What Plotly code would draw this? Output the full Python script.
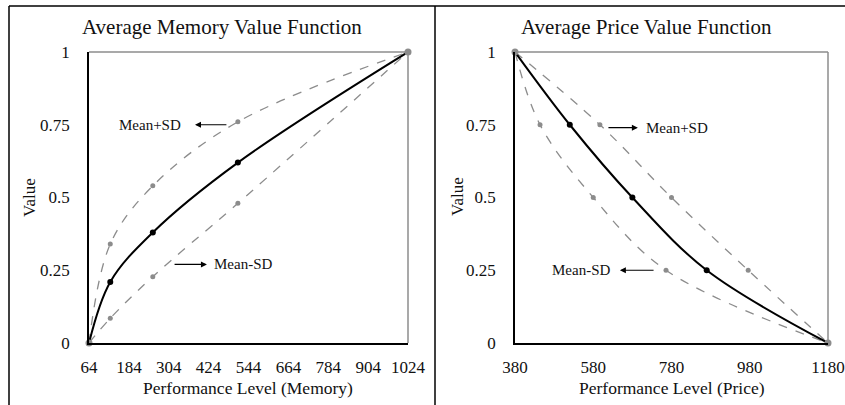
import plotly.graph_objects as go

# Memory value function (x = memory level, y = value)
mem_levels = [64, 128, 256, 512, 1024]
mem_mean = [0, 0.21, 0.38, 0.62, 1]
mem_plus_sd = [0, 0.34, 0.54, 0.76, 1]
mem_minus_sd = [0, 0.085, 0.228, 0.48, 1]
mem_ticks = [64, 184, 304, 424, 544, 664, 784, 904, 1024]

# Price value function (x = price level at each value step)
price_values = [1, 0.75, 0.5, 0.25, 0]
price_mean = [380, 520, 680, 870, 1180]
price_plus_sd = [380, 597, 780, 976, 1180]
price_minus_sd = [380, 444, 580, 766, 1180]
price_ticks = [380, 580, 780, 980, 1180]

value_ticks = [0, 0.25, 0.5, 0.75, 1]
value_labels = ["0", "0.25", "0.5", "0.75", "1"]

FONT = "Liberation Serif"
GREY = "#8c8c8c"
W, H = 845, 405

fig = go.Figure()


def add_panel(xs_list, ys_list, xa, ya):
    names = ["Mean+SD", "Mean-SD", "Mean"]
    for (xs, ys), name in zip(zip(xs_list, ys_list), names):
        is_mean = name == "Mean"
        fig.add_trace(go.Scatter(
            x=xs, y=ys, mode="lines", xaxis=xa, yaxis=ya, name=name,
            line=dict(shape="spline", smoothing=1,
                      color="black" if is_mean else GREY,
                      width=2 if is_mean else 1.3,
                      dash="solid" if is_mean else "dash"),
            showlegend=False, hoverinfo="skip", cliponaxis=False))
        fig.add_trace(go.Scatter(
            x=xs[1:-1], y=ys[1:-1], mode="markers", xaxis=xa, yaxis=ya,
            marker=dict(color="black" if is_mean else GREY,
                        size=6 if is_mean else 5),
            showlegend=False, hoverinfo="skip"))
    # shared end points
    fig.add_trace(go.Scatter(
        x=[xs_list[2][0], xs_list[2][-1]], y=[ys_list[2][0], ys_list[2][-1]],
        mode="markers", xaxis=xa, yaxis=ya, cliponaxis=False,
        marker=dict(color=GREY, size=7), showlegend=False, hoverinfo="skip"))


add_panel([mem_levels, mem_levels, mem_levels],
          [mem_plus_sd, mem_minus_sd, mem_mean], "x", "y")
add_panel([price_plus_sd, price_minus_sd, price_mean],
          [price_values, price_values, price_values], "x2", "y2")

ydom = [1 - 343 / H, 1 - 52 / H]
axis_common = dict(showgrid=False, zeroline=False, showline=True,
                   linecolor="black", linewidth=1.5, ticks="",
                   automargin=False,
                   tickfont=dict(family=FONT, size=17, color="#111"))

fig.update_layout(
    width=W, height=H,
    margin=dict(l=0, r=0, t=0, b=0, pad=0, autoexpand=False),
    paper_bgcolor="white", plot_bgcolor="white",
    xaxis=dict(domain=[89 / W, 408 / W], range=[64, 1024],
               tickvals=mem_ticks, ticklabelstandoff=8, anchor="y",
               **axis_common),
    yaxis=dict(domain=ydom, range=[0, 1], tickvals=value_ticks,
               ticktext=value_labels, ticklabelstandoff=14, anchor="x",
               **axis_common),
    xaxis2=dict(domain=[515 / W, 828 / W], range=[380, 1180],
                tickvals=price_ticks, ticklabelstandoff=8, anchor="y2",
                **axis_common),
    yaxis2=dict(domain=ydom, range=[0, 1], tickvals=value_ticks,
                ticktext=value_labels, ticklabelstandoff=14, anchor="x2",
                **axis_common),
)

# grey top / right edges of each plot area
for xr, yr in (("x domain", "y domain"), ("x2 domain", "y2 domain")):
    fig.add_shape(type="line", xref=xr, yref=yr, x0=0, x1=1, y0=1, y1=1,
                  line=dict(color=GREY, width=1.5), layer="below")
    fig.add_shape(type="line", xref=xr, yref=yr, x0=1, x1=1, y0=0, y1=1,
                  line=dict(color=GREY, width=1.5), layer="below")

# outer panel frame
for x0, y0, x1, y1 in ((9, 6, W, 6), (9, 6, 9, H), (435, 6, 435, H)):
    fig.add_shape(type="line", xref="paper", yref="paper",
                  x0=x0 / W, x1=x1 / W, y0=1 - y0 / H, y1=1 - y1 / H,
                  line=dict(color="black", width=1.5))


def text(x, y, s, size, angle=0):
    fig.add_annotation(x=x / W, y=1 - y / H, xref="paper", yref="paper",
                       text=s, showarrow=False, textangle=angle,
                       font=dict(family=FONT, size=size, color="#111"),
                       xanchor="center", yanchor="middle")


text(222, 27, "Average Memory Value Function", 21)
text(646, 27, "Average Price Value Function", 21)
text(248, 388, "Performance Level (Memory)", 17.5)
text(672, 388, "Performance Level (Price)", 17.5)
text(29, 197, "Value", 17, -90)
text(457, 197, "Value", 17, -90)


def callout(xa, ya, label, tx, head, tail, y):
    fig.add_annotation(x=tx, y=y, xref=xa, yref=ya, text=label,
                       showarrow=False,
                       font=dict(family=FONT, size=15, color="#111"))
    fig.add_annotation(x=head, y=y, ax=tail, ay=y, xref=xa, yref=ya,
                       axref=xa, ayref=ya, text="", showarrow=True,
                       arrowhead=2, arrowsize=1, arrowwidth=1.2,
                       arrowcolor="black")


callout("x", "y", "Mean+SD", 248, 383, 482, 0.75)
callout("x", "y", "Mean-SD", 527, 419, 317, 0.27)
callout("x2", "y2", "Mean+SD", 794, 694, 615, 0.74)
callout("x2", "y2", "Mean-SD", 549, 648, 738, 0.25)

fig.write_html("out.html")
